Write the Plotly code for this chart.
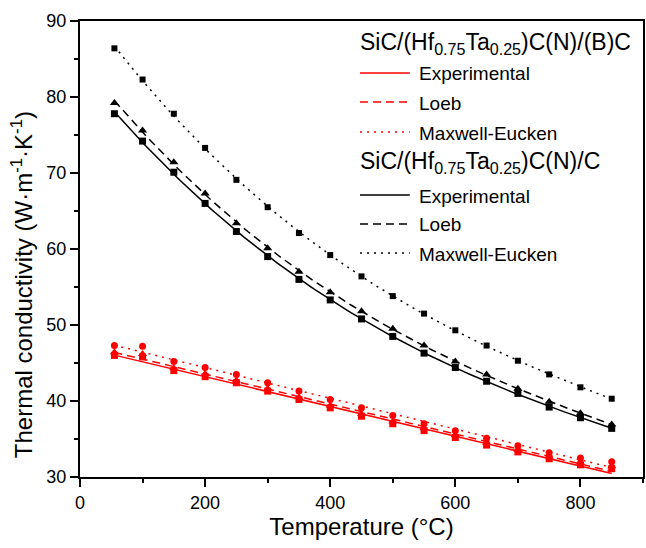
import numpy as np
import plotly.graph_objects as go

temperature = [55, 100, 150, 200, 250, 300, 350, 400, 450, 500, 550, 600, 650, 700, 750, 800, 850]

bc_exp = [46.0, 45.8, 44.0, 43.2, 42.4, 41.3, 40.2, 39.1, 38.0, 37.0, 36.1, 35.2, 34.2, 33.3, 32.4, 31.6, 31.1]
bc_loeb = [46.4, 46.2, 44.3, 43.6, 42.7, 41.6, 40.5, 39.4, 38.3, 37.3, 36.4, 35.5, 34.5, 33.6, 32.7, 31.9, 31.4]
bc_me = [47.3, 47.2, 45.2, 44.4, 43.5, 42.4, 41.3, 40.2, 39.1, 38.1, 37.0, 36.1, 35.1, 34.1, 33.2, 32.5, 32.0]

c_exp = [77.8, 74.2, 70.1, 66.0, 62.3, 59.0, 56.0, 53.3, 50.8, 48.5, 46.3, 44.4, 42.6, 41.0, 39.2, 37.8, 36.4]
c_loeb = [79.2, 75.6, 71.4, 67.3, 63.4, 60.1, 57.0, 54.3, 51.8, 49.5, 47.3, 45.2, 43.5, 41.6, 39.9, 38.4, 36.9]
c_me = [86.4, 82.3, 77.8, 73.3, 69.1, 65.5, 62.1, 59.2, 56.4, 53.8, 51.5, 49.3, 47.3, 45.3, 43.5, 41.8, 40.3]

group1 = "SiC/(Hf<sub>0.75</sub>Ta<sub>0.25</sub>)C(N)/(B)C"
group2 = "SiC/(Hf<sub>0.75</sub>Ta<sub>0.25</sub>)C(N)/C"
names = ["Experimental", "Loeb", "Maxwell-Eucken"]

RED = "#FF0000"
BLACK = "#000000"
DASHES = ["solid", "8px,5px", "2px,5px"]

FONT = "Liberation Sans, Arial, sans-serif"

W, H = 646, 548
ML, MR, MT, MB = 80, 1, 21, 71
PW, PH = W - ML - MR, H - MT - MB


def px(xp):
    return (xp - ML) / PW


def py(yp):
    return (H - MB - yp) / PH


fig = go.Figure()

series = [
    (bc_exp, RED, "square", 0, 1, 7),
    (bc_loeb, RED, "triangle-up", 1, 1, 8),
    (bc_me, RED, "circle", 2, 1, 7),
    (c_exp, BLACK, "square", 0, 3, 7),
    (c_loeb, BLACK, "triangle-up", 1, 3, 8),
    (c_me, BLACK, "square", 2, 3, 6),
]

x_arr = np.array(temperature, dtype=float)
xs = np.linspace(x_arr.min(), x_arr.max(), 120)

for vals, color, sym, di, deg, msize in series:
    coef = np.polyfit(x_arr, np.array(vals), deg)
    ys = np.polyval(coef, xs)
    fig.add_trace(go.Scatter(x=xs, y=ys, mode="lines",
                             line=dict(color=color, width=1.5, dash=DASHES[di]),
                             showlegend=False, hoverinfo="skip"))
    fig.add_trace(go.Scatter(x=temperature, y=vals, mode="markers",
                             marker=dict(color=color, symbol=sym, size=msize, line=dict(width=0)),
                             showlegend=False))

# manual legend
header_y = [43, 162]
entry_y = [[73, 102, 132], [195, 224, 253]]
for gi, (grp, color) in enumerate([(group1, RED), (group2, BLACK)]):
    fig.add_annotation(xref="paper", yref="paper", x=px(359), y=py(header_y[gi]),
                       xanchor="left", yanchor="middle", text=grp, showarrow=False,
                       font=dict(size=23, family=FONT, color="black"))
    for di, nm in enumerate(names):
        yy = entry_y[gi][di]
        fig.add_shape(type="line", xref="paper", yref="paper",
                      x0=px(361), x1=px(411), y0=py(yy), y1=py(yy),
                      line=dict(color=color, width=1.5, dash=DASHES[di]))
        fig.add_annotation(xref="paper", yref="paper", x=px(418), y=py(yy + 1),
                           xanchor="left", yanchor="middle", text=nm, showarrow=False,
                           font=dict(size=19, family=FONT, color="black"))

# y-axis title
fig.add_annotation(xref="paper", yref="paper", x=px(22), y=py(285),
                   xanchor="center", yanchor="middle", textangle=-90, showarrow=False,
                   text="Thermal conductivity (W·m<sup>-1</sup>·K<sup>-1</sup>)",
                   font=dict(size=24, family=FONT, color="black"))

fig.update_layout(
    width=W, height=H,
    margin=dict(l=ML, r=MR, t=MT, b=MB),
    paper_bgcolor="white", plot_bgcolor="white",
    font=dict(family=FONT, size=18, color="black"),
    showlegend=False,
)

fig.update_xaxes(
    range=[0, 900], tickvals=[0, 200, 400, 600, 800],
    ticks="outside", ticklen=8, tickwidth=1.5, tickcolor="black",
    minor=dict(tickvals=[100, 300, 500, 700, 900], ticks="outside", ticklen=4, tickwidth=1.5, tickcolor="black"),
    showline=True, linecolor="black", linewidth=2, mirror=True,
    showgrid=False, zeroline=False,
    tickfont=dict(size=18),
    title=dict(text="Temperature (°C)", font=dict(size=24), standoff=3),
)
fig.update_yaxes(
    range=[30, 90], tickvals=[30, 40, 50, 60, 70, 80, 90],
    ticks="outside", ticklen=8, tickwidth=1.5, tickcolor="black",
    minor=dict(tickvals=[35, 45, 55, 65, 75, 85], ticks="outside", ticklen=4, tickwidth=1.5, tickcolor="black"),
    showline=True, linecolor="black", linewidth=2, mirror=True,
    showgrid=False, zeroline=False,
    tickfont=dict(size=18),
)

fig.write_html("out.html")
